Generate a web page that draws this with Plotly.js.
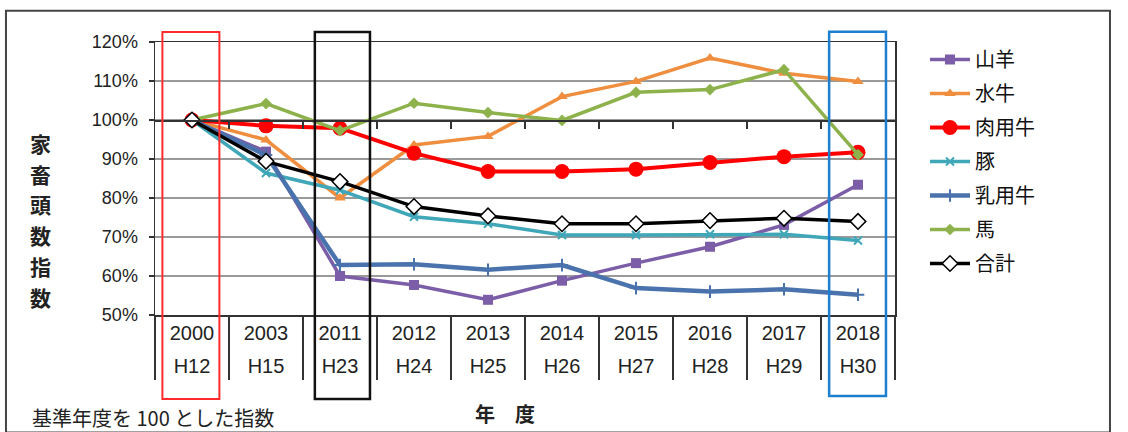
<!DOCTYPE html>
<html>
<head>
<meta charset="utf-8">
<script src="https://cdn.plot.ly/plotly-3.0.1.min.js"></script>
<style>html,body{margin:0;padding:0;background:#fff;}#chart{width:1128px;height:432px;}</style>
</head>
<body>
<div id="chart"></div>
<script>
const years = ['2000','2003','2011','2012','2013','2014','2015','2016','2017','2018'];
const eras  = ['H12','H15','H23','H24','H25','H26','H27','H28','H29','H30'];

const goat      = [100, 91.9, 60.0, 57.7, 53.9, 58.8, 63.3, 67.5, 73.1, 83.4];   // 山羊
const buffalo   = [100, 94.9, 80.0, 93.6, 95.8, 106.0, 109.9, 115.9, 112.0, 109.9]; // 水牛
const beef      = [100, 98.5, 97.9, 91.5, 86.8, 86.8, 87.4, 89.1, 90.6, 91.7];   // 肉用牛
const pig       = [100, 86.4, 82.0, 75.2, 73.4, 70.5, 70.5, 70.7, 70.7, 69.1];   // 豚
const dairy     = [100, 91.0, 62.8, 63.0, 61.6, 62.8, 56.9, 56.0, 56.6, 55.2];   // 乳用牛
const horse     = [100, 104.2, 97.3, 104.3, 101.9, 99.9, 107.1, 107.8, 112.9, 91.1]; // 馬
const total     = [100, 89.4, 84.2, 77.8, 75.4, 73.4, 73.4, 74.2, 74.8, 74.0];   // 合計

const seriesNames = ['山羊','水牛','肉用牛','豚','乳用牛','馬','合計'];
const yTitleChars = ['家','畜','頭','数','指','数'];

const idx = years.map((_, i) => i);
const bounds = idx.slice(1).map(i => i - 0.5);

function tr(name, y, color, width, marker) {
  return {
    type: 'scatter', mode: 'lines+markers', name: name, x: years, y: y,
    line: {color: color, width: width},
    marker: marker,
    legendgroup: name,
    xaxis: 'x', yaxis: 'y'
  };
}

const data = [
  tr(seriesNames[0], goat, '#7b5ea7', 3.5, {symbol: 'square', size: 10, color: '#7b5ea7'}),
  tr(seriesNames[1], buffalo, '#ef8e3e', 3.5, {symbol: 'triangle-up', size: 10, color: '#ef8e3e'}),
  tr(seriesNames[2], beef, '#ff0000', 4, {symbol: 'circle', size: 15, color: '#ff0000'}),
  tr(seriesNames[3], pig, '#3fa7b8', 3.5, {symbol: 'x-thin-open', size: 8, color: '#3fa7b8', line: {color: '#3fa7b8', width: 2}}),
  tr(seriesNames[4], dairy, '#4a73ad', 4.5, {symbol: 'cross-thin-open', size: 9, color: '#4a73ad', line: {color: '#4a73ad', width: 2}}),
  tr(seriesNames[5], horse, '#8db24c', 3.5, {symbol: 'diamond', size: 9, color: '#8db24c'}),
  tr(seriesNames[6], total, '#000000', 3.5, {symbol: 'diamond', size: 12, color: '#ffffff', line: {color: '#000000', width: 1.5}})
];

// helper traces so the overlay axes get drawn (no visible marks)
['x2','x3','x4'].forEach(ax => data.push({type:'scatter', x: [], y: [], xaxis: ax, yaxis: 'y', showlegend: false, hoverinfo: 'skip'}));

const numFont = 'Liberation Sans, Arial, sans-serif';
const cjkFont = 'Noto Sans CJK JP, sans-serif';

const annotations = yTitleChars.map((ch, i) => ({
  text: ch, xref: 'paper', yref: 'paper', x: -0.1554,
  y: (315 - (143 + i * 30.8)) / 272.7,
  xanchor: 'center', yanchor: 'middle', showarrow: false,
  font: {family: cjkFont, size: 21, color: '#222', weight: 'bold'}
}));
annotations.push(
  {text: '年　度', xref: 'paper', yref: 'paper', x: 0.473, y: -0.359,
   xanchor: 'center', yanchor: 'middle', showarrow: false,
   font: {family: cjkFont, size: 20, color: '#222', weight: 'bold'}},
  {text: '基準年度を 100 とした指数', xref: 'paper', yref: 'paper', x: -0.169, y: -0.374,
   xanchor: 'left', yanchor: 'middle', showarrow: false,
   font: {family: cjkFont, size: 20, color: '#222'}}
);

const layout = {
  width: 1128, height: 432,
  margin: {l: 155, r: 233, t: 42, b: 117, pad: 0},
  paper_bgcolor: '#ffffff', plot_bgcolor: '#ffffff',
  showlegend: true,
  font: {family: cjkFont, color: '#1a1a1a'},
  xaxis: {
    type: 'category', range: [-0.5, 9.5],
    ticks: 'outside', tickson: 'boundaries', ticklen: 63, tickwidth: 1.5, tickcolor: '#333',
    showticklabels: false, showgrid: false, zeroline: false,
    showline: true, linecolor: '#333', linewidth: 1.5, mirror: true, fixedrange: true
  },
  xaxis2: {
    overlaying: 'x', anchor: 'y', side: 'bottom', type: 'linear', range: [-0.5, 9.5],
    tickmode: 'array', tickvals: idx, ticktext: years, ticks: '',
    showline: false, showgrid: false, zeroline: false,
    tickfont: {family: numFont, size: 20, color: '#222'}, ticklabelstandoff: 4
  },
  xaxis3: {
    overlaying: 'x', anchor: 'y', side: 'bottom', type: 'linear', range: [-0.5, 9.5],
    tickmode: 'array', tickvals: idx, ticktext: eras, ticks: '',
    showline: false, showgrid: false, zeroline: false,
    tickfont: {family: numFont, size: 20, color: '#222'}, ticklabelstandoff: 37
  },
  xaxis4: {
    overlaying: 'x', anchor: 'free', position: (100 - 50) / (120 - 50), side: 'bottom',
    type: 'linear', range: [-0.5, 9.5],
    tickmode: 'array', tickvals: bounds, ticks: 'outside', ticklen: 7, tickwidth: 1.5, tickcolor: '#333',
    showticklabels: false, showgrid: false, zeroline: false,
    showline: true, linecolor: '#333', linewidth: 1.5
  },
  yaxis: {
    range: [50, 120], tick0: 50, dtick: 10, ticksuffix: '%',
    tickfont: {family: numFont, size: 18, color: '#222'},
    ticks: 'outside', ticklen: 5, tickwidth: 1.5, tickcolor: '#333', ticklabelstandoff: 7,
    showgrid: true, gridcolor: '#9a9a9a', gridwidth: 1.5, zeroline: false,
    showline: true, linecolor: '#333', linewidth: 1.5, mirror: true, fixedrange: true
  },
  legend: {
    xref: 'container', yref: 'container', x: 925 / 1128, y: 1 - 40 / 432,
    xanchor: 'left', yanchor: 'top', traceorder: 'grouped', tracegroupgap: 5,
    font: {family: cjkFont, size: 20, color: '#111'}, bgcolor: 'rgba(0,0,0,0)', itemwidth: 40,
    maxheight: 400
  },
  shapes: [
    {type: 'rect', xref: 'paper', yref: 'paper', x0: -0.2014, x1: 1.2905, y0: -0.43, y1: 1.1148,
     line: {color: '#444', width: 2}, fillcolor: 'rgba(0,0,0,0)', layer: 'below'},
    {type: 'rect', xref: 'x', yref: 'paper', x0: -0.4, x1: 0.37, y0: -0.3077, y1: 1.0366,
     line: {color: '#ff2a2a', width: 2}, fillcolor: 'rgba(0,0,0,0)'},
    {type: 'rect', xref: 'x', yref: 'paper', x0: 1.66, x1: 2.405, y0: -0.3077, y1: 1.0366,
     line: {color: '#111111', width: 2.5}, fillcolor: 'rgba(0,0,0,0)'},
    {type: 'rect', xref: 'x', yref: 'paper', x0: 8.61, x1: 9.378, y0: -0.2968, y1: 1.0376,
     line: {color: '#1c7fd0', width: 2.5}, fillcolor: 'rgba(0,0,0,0)'}
  ],
  annotations: annotations
};

Plotly.newPlot('chart', data, layout, {displayModeBar: false, staticPlot: true});
</script>
</body>
</html>
